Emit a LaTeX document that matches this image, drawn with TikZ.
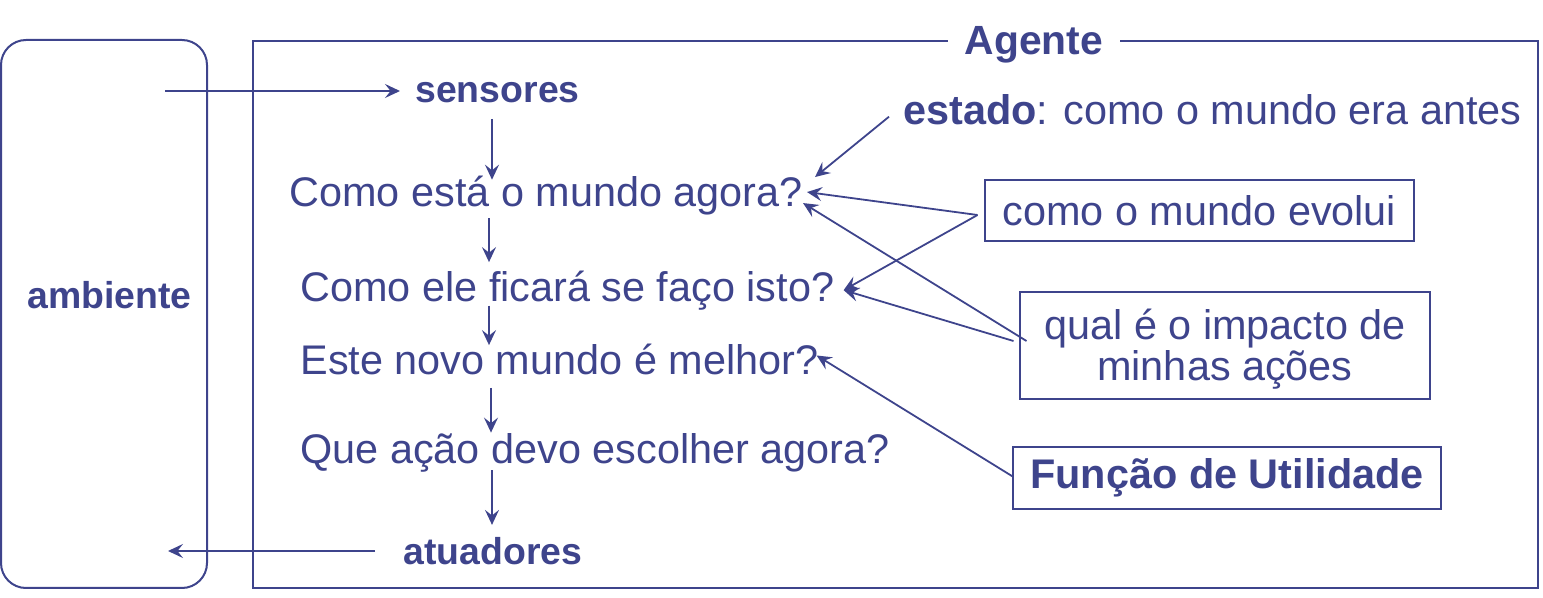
\documentclass[tikz,border=0pt]{standalone}
\usepackage{fontspec}
\setmainfont{Liberation Sans}
\usetikzlibrary{arrows.meta}
\definecolor{ink}{RGB}{62,68,140}
\begin{document}
\begin{tikzpicture}[x=0.5pt,y=-0.5pt,
  every node/.style={text=ink, inner sep=0pt},
  big/.style={font=\fontsize{20.7}{20.5}\selectfont},
  lab/.style={font=\fontsize{18.7}{22}\selectfont\bfseries},
  box/.style={draw=ink, line width=1pt},
  arr/.style={draw=ink, line width=0.9pt, -{Stealth[length=7.5pt,width=7pt,inset=2.8pt]}}]
\useasboundingbox (0,0) rectangle (1543,598);
% environment
\draw[box, rounded corners=12.5pt] (1,40) rectangle (207,588);
\node[lab, anchor=base west] (amb) at (27,309) {ambiente};
% agent frame
\draw[box] (253,41) rectangle (1538,588);
\node[lab, font=\fontsize{20.4}{24}\selectfont\bfseries, fill=white, inner xsep=8.5pt, inner ysep=3pt, anchor=base] (agente) at (1034,55) {Agente};
% main column
\node[lab, anchor=base west] (sens) at (415,103) {sensores};
\node[big, anchor=base west] (q1) at (289,207) {Como está o mundo agora?};
\node[big, anchor=base west] (q2) at (300,302) {Como ele ficará se faço isto?};
\node[big, anchor=base west] (q3) at (300,375) {Este novo mundo é melhor?};
\node[big, anchor=base west] (q4) at (300,464) {Que ação devo escolher agora?};
\node[lab, anchor=base west] (atua) at (403,565) {atuadores};
% knowledge
\node[big, anchor=base west] (est) at (903,125) {\textbf{estado}: como o mundo era antes};
\node[big, box, minimum width=214.5pt, minimum height=30.5pt] (evo) at (1199.5,211) {como o mundo evolui};
\node[box, minimum width=205pt, minimum height=53.5pt] (imp) at (1225,345.5) {};
\node[big, align=center, anchor=north] (impt) at (1225,309) {qual é o impacto de\\minhas ações};
\node[big, box, font=\fontsize{20.7}{24}\selectfont\bfseries, minimum width=214pt, minimum height=31pt] (fun) at (1227,478) {Função de Utilidade};
% free ends
\coordinate (envin) at (165,91);
\coordinate (envout) at (168,551);
\coordinate (spine) at (490,0);
% connectors
\draw[arr] (envin) -- ([shift={(-15,0)}]sens.west |- envin);
\draw[arr] (atua.west |- envout) ++(-28,0) -- (envout);
\draw[arr, shorten <=7.5pt, shorten >=-1.8pt] ([xshift=1pt]sens.south -| spine) -- ([xshift=1pt]q1.north -| spine);
\draw[arr, shorten <=1.2pt, shorten >=4.5pt] ([xshift=-0.5pt]q1.south -| spine) -- ([xshift=-0.5pt]q2.north -| spine);
\draw[arr, shorten <=-2.8pt, shorten >=-0.5pt] ([xshift=-0.5pt]q2.south -| spine) -- ([xshift=-0.5pt]q3.north -| spine);
\draw[arr, shorten <=6pt, shorten >=0.5pt] ([xshift=0.5pt]q3.south -| spine) -- ([xshift=0.5pt]q4.north -| spine);
\draw[arr, shorten <=-1.4pt, shorten >=6.3pt] ([xshift=1pt]q4.south -| spine) -- ([xshift=1pt]atua.north -| spine);
\draw[arr] ([shift={(-14,6.5)}]est.west) -- ([shift={(12,-19)}]q1.east);
\draw[arr] ([shift={(-6.5,4)}]evo.west) -- ([shift={(4,-4)}]q1.east);
\draw[arr] ([shift={(-6.5,4)}]evo.west) -- ([shift={(9,-1)}]q2.east);
\draw[arr] ([shift={(7.5,-4.5)}]imp.west) -- ([shift={(0,7)}]q1.east);
\draw[arr] ([shift={(-5.5,-4.5)}]imp.west) -- ([shift={(9,-1)}]q2.east);
\draw[arr] ([shift={(1.5,-1)}]fun.west) -- ([shift={(-2,-4.5)}]q3.east);
\end{tikzpicture}
\end{document}
